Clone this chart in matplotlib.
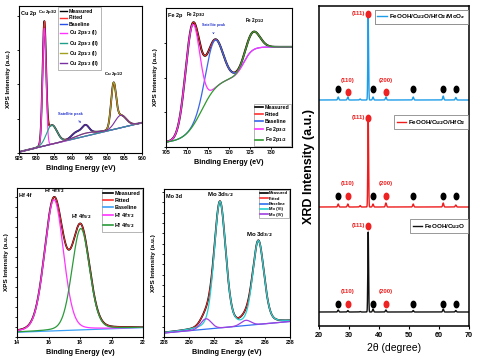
import numpy as np
import matplotlib
matplotlib.use("Agg")
import matplotlib.pyplot as plt
from matplotlib.path import Path
from matplotlib.lines import Line2D

plt.rcParams['font.family'] = ['Liberation Sans', 'DejaVu Sans']
plt.rcParams['font.weight'] = 'bold'
plt.rcParams['axes.linewidth'] = 0.8

W, H = 479, 363
fig = plt.figure(figsize=(W / 100, H / 100), dpi=100)

def rect(x0, x1, ytop, ybot):
    return [x0 / W, (H - ybot) / H, (x1 - x0) / W, (ybot - ytop) / H]

def pv(x, c, a, s, eta=0.0):
    g = np.exp(-(x - c) ** 2 / (2 * s ** 2))
    l = 1.0 / (1 + ((x - c) / (s * 1.1774)) ** 2)
    return a * ((1 - eta) * g + eta * l)

def sig(x, c, w):
    return 1.0 / (1 + np.exp(-(x - c) / w))

# ---------------- data ----------------
# Cu 2p  (centre eV, height, width, lorentz fraction)
cu_xlim = (925, 960)
cu_ticks = [925, 930, 935, 940, 945, 950, 955, 960]
cu_base = (0.7, 20.6)
cu_p32_1 = (932.2, 80.0, 0.50, 0.0)
cu_p32_2 = (934.3, 13.0, 1.50, 0.0)
cu_p12_1 = (951.9, 28.0, 0.70, 0.0)
cu_p12_2 = (953.9, 8.5, 1.60, 0.0)
cu_sat = [(941.2, 3.0, 1.2, 0.0), (943.9, 5.5, 1.0, 0.0)]
cu_sat_broad = (944.0, 2.0, 3.0, 0.0)

# Fe 2p
fe_xlim = (705, 735)
fe_ticks = [705, 710, 715, 720, 725, 730]
fe_steps = [(3.0, 50.0, 713.5, 2.0), (50.0, 72.0, 723.5, 1.0)]
fe_p32 = (711.3, 73.0, 1.7, 0.0)
fe_sat = (716.5, 35.0, 2.0, 0.0)
fe_p12 = (725.7, 13.0, 1.6, 0.0)

# Hf 4f
hf_xlim = (14, 22)
hf_ticks = [14, 16, 18, 20, 22]
hf_base = (3.2, 6.3)
hf_p72 = (16.35, 88.0, 0.60, 0.15)
hf_p52 = (18.05, 68.0, 0.56, 0.15)

# Mo 3d
mo_xlim = (228, 238)
mo_ticks = [228, 230, 232, 234, 236, 238]
mo_base = (2.7, 10.5)
mo_vi = [(232.44, 85.0, 0.46, 0.25), (235.49, 56.0, 0.45, 0.25)]
mo_iv = [(231.33, 7.0, 0.42, 0.0), (234.50, 3.5, 0.40, 0.0)]

# XRD
xrd_pos = [26.4, 29.6, 33.7, 36.4, 38.0, 42.3, 51.4, 61.4, 65.6]
xrd_black = [2.0, 1.5, 0.5, 80.0, 3.0, 2.0, 1.5, 3.0, 1.5]
xrd_red = [3.0, 3.0, 1.5, 91.0, 3.0, 4.0, 3.0, 4.0, 2.0]
xrd_blue = [3.0, 3.0, 1.0, 83.0, 3.0, 3.0, 3.0, 4.0, 2.5]
xrd_offsets = [14, 119, 226]
black_dot_pos = [26.4, 38.0, 51.4, 61.4, 65.6]
red_dot_pos = [29.6, 42.3]
red_dot_labels = ['(110)', '(200)']
xrd_dot_y = {'black': (22, 22, 32, 100), 'red': (130, 130, 140, 208), 'blue': (237, 234, 243, 312)}
xrd_names = ['FeOOH/Cu$_2$O', 'FeOOH/Cu$_2$O/HfO$_2$', 'FeOOH/Cu$_2$O/HfO$_2$/MoO$_x$']

LS = 3.8   # tiny label size


def style_xps(ax, xlim, ticks, ystep, xlabel='Binding Energy (eV)'):
    ax.set_xlim(*xlim)
    ax.set_ylim(0, 100)
    ax.set_xticks(ticks)
    ax.set_yticks(np.arange(0, 100, ystep))
    ax.tick_params(axis='both', direction='out', length=1.5, width=0.6, pad=1, labelsize=LS)
    ax.tick_params(axis='y', labelleft=False)
    for lab in ax.get_xticklabels():
        lab.set_fontweight('bold')
    ax.set_xlabel(xlabel, fontsize=5.2, fontweight='bold', labelpad=2.5)
    ax.set_ylabel('XPS Intensity (a.u.)', fontsize=4.6, fontweight='bold', labelpad=4)


def xps_legend(ax, handles, labels, anchor, loc, fs=4.3, hl=1.6):
    leg = ax.legend(handles, labels, loc=loc, bbox_to_anchor=anchor, fontsize=fs,
                    handlelength=hl, handletextpad=0.3, borderpad=0.3, labelspacing=0.35,
                    borderaxespad=0.2,
                    frameon=True, fancybox=False, edgecolor='#999999', framealpha=1)
    leg.get_frame().set_linewidth(0.5)
    for t in leg.get_texts():
        t.set_fontweight('bold')
    return leg

# ---------------- Cu 2p ----------------
ax = fig.add_axes(rect(19, 142, 6, 153))
x = np.linspace(*cu_xlim, 1200)
base = cu_base[0] + (x - cu_xlim[0]) * (cu_base[1] - cu_base[0]) / (cu_xlim[1] - cu_xlim[0])
sat = sum(pv(x, *p) for p in cu_sat)
c1 = pv(x, *cu_p32_1); c2 = pv(x, *cu_p32_2); c3 = pv(x, *cu_p12_1); c4 = pv(x, *cu_p12_2) + pv(x, *cu_sat_broad)
fit = base + c1 + c2 + c3 + c4 + sat
col_cu = ['black', '#ff3030', '#2a4fe6', '#ff33ff', '#1f9f8a', '#a0a020', '#7a2fa0']
ax.plot(x, fit, color='black', lw=1.3)
ax.plot(x, fit, color=col_cu[1], lw=0.7)
ax.plot(x, base, color=col_cu[2], lw=0.9)
ax.plot(x, base + sat + pv(x, *cu_sat_broad), color='#2a2fc0', lw=0.8)
ax.plot(x, base + c1, color=col_cu[3], lw=0.8)
ax.plot(x, base + c2, color=col_cu[4], lw=0.8)
ax.plot(x, base + c3 + c4, color=col_cu[5], lw=0.8)
ax.plot(x, base + c4, color=col_cu[6], lw=0.8)
style_xps(ax, cu_xlim, cu_ticks, 23.3)
ax.text(0.015, 0.965, 'Cu 2p', transform=ax.transAxes, fontsize=4.0, fontweight='bold', va='top')
ax.text(933.2, 93, 'Cu 2p$_{3/2}$', fontsize=3.2, ha='center', va='bottom')
ax.text(952.0, 51, 'Cu 2p$_{1/2}$', fontsize=3.2, ha='center', va='bottom')
ax.annotate('Satellite peak', xy=(943.3, 19.5), xytext=(939.5, 25), fontsize=2.8, color='#2233cc',
            ha='center', va='bottom', arrowprops=dict(arrowstyle='->', color='#2233cc', lw=0.4))
h = [Line2D([], [], color=c, lw=1) for c in col_cu]
lab = ['Measured', 'Fitted', 'Baseline', 'Cu 2p$_{3/2}$ (I)', 'Cu 2p$_{3/2}$ (II)',
       'Cu 2p$_{1/2}$ (I)', 'Cu 2p$_{1/2}$ (II)']
xps_legend(ax, h, lab, (0.31, 1.0), 'upper left', fs=3.7, hl=1.5)

# ---------------- Fe 2p ----------------
ax = fig.add_axes(rect(166, 292, 8, 147))
x = np.linspace(*fe_xlim, 1200)
S = fe_steps[0][0] + sum((hi - lo) * sig(x, c, w) for lo, hi, c, w in fe_steps)
f1 = pv(x, *fe_p32); f2 = pv(x, *fe_sat); f3 = pv(x, *fe_p12)
fit = S + f1 + f2 + f3
col_fe = ['black', '#ff3030', '#3a66ea', '#ff33ff', '#2e9a2e']
ax.plot(x, fit, color='black', lw=1.5)
ax.plot(x, fit, color=col_fe[1], lw=0.7)
ax.plot(x, S + f2, color=col_fe[2], lw=0.9)
ax.plot(x, S + f1, color=col_fe[3], lw=0.9)
ax.plot(x, S + f3, color=col_fe[4], lw=0.9)
style_xps(ax, fe_xlim, fe_ticks, 25)
ax.text(0.015, 0.965, 'Fe 2p', transform=ax.transAxes, fontsize=4.0, fontweight='bold', va='top')
ax.text(712.0, 92, 'Fe 2p$_{3/2}$', fontsize=3.3, ha='center', va='bottom')
ax.text(726.2, 88, 'Fe 2p$_{1/2}$', fontsize=3.3, ha='center', va='bottom')
ax.annotate('Satellite peak', xy=(716.3, 79), xytext=(716.3, 86), fontsize=2.6, color='#2233cc',
            ha='center', va='bottom', arrowprops=dict(arrowstyle='->', color='#2233cc', lw=0.4))
h = [Line2D([], [], color=c, lw=1.2) for c in col_fe]
lab = ['Measured', 'Fitted', 'Baseline', 'Fe 2p$_{3/2}$', 'Fe 2p$_{1/2}$']
xps_legend(ax, h, lab, (1.0, 0.0), 'lower right', fs=3.8, hl=1.5)

# ---------------- Hf 4f ----------------
ax = fig.add_axes(rect(17, 143, 188, 337))
x = np.linspace(*hf_xlim, 1200)
base = hf_base[0] + (x - hf_xlim[0]) * (hf_base[1] - hf_base[0]) / (hf_xlim[1] - hf_xlim[0])
h1 = pv(x, *hf_p72); h2 = pv(x, *hf_p52)
fit = base + h1 + h2
col_hf = ['black', '#ff3030', '#3aa0f5', '#ff33ff', '#2a9a3a']
ax.plot(x, fit, color='black', lw=1.3)
ax.plot(x, fit, color=col_hf[1], lw=0.7)
ax.plot(x, base, color=col_hf[2], lw=0.9)
ax.plot(x, base + h1, color=col_hf[3], lw=0.9)
ax.plot(x, base + h2, color=col_hf[4], lw=0.9)
style_xps(ax, hf_xlim, hf_ticks, 6.7, xlabel='Binding Energy (ev)')
ax.text(0.015, 0.965, 'Hf 4f', transform=ax.transAxes, fontsize=4.0, fontweight='bold', va='top')
ax.text(16.35, 95.5, 'Hf 4f$_{7/2}$', fontsize=4.0, ha='center', va='bottom')
ax.text(18.05, 78, 'Hf 4f$_{5/2}$', fontsize=4.0, ha='center', va='bottom')
h = [Line2D([], [], color=c, lw=1.2) for c in col_hf]
lab = ['Measured', 'Fitted', 'Baseline', 'Hf 4f$_{7/2}$', 'Hf 4f$_{5/2}$']
xps_legend(ax, h, lab, (1.0, 1.0), 'upper right', fs=4.0, hl=1.7)

# ---------------- Mo 3d ----------------
ax = fig.add_axes(rect(164, 290, 189, 337))
x = np.linspace(*mo_xlim, 1200)
base = mo_base[0] + (x - mo_xlim[0]) * (mo_base[1] - mo_base[0]) / (mo_xlim[1] - mo_xlim[0])
m6 = sum(pv(x, *p) for p in mo_vi)
m4 = sum(pv(x, *p) for p in mo_iv)
fit = base + m6 + m4
col_mo = ['black', '#ff3030', '#3070f0', '#22d0d0', '#a040e0']
ax.plot(x, fit, color='black', lw=1.3)
ax.plot(x, fit, color=col_mo[1], lw=0.7)
ax.plot(x, base, color=col_mo[2], lw=0.9)
ax.plot(x, base + m6, color=col_mo[3], lw=0.9)
ax.plot(x, base + m4, color=col_mo[4], lw=0.9)
style_xps(ax, mo_xlim, mo_ticks, 7.0)
ax.text(0.015, 0.965, 'Mo 3d', transform=ax.transAxes, fontsize=4.0, fontweight='bold', va='top')
ax.text(232.5, 93, 'Mo 3d$_{5/2}$', fontsize=4.4, ha='center', va='bottom')
ax.text(235.6, 66, 'Mo 3d$_{3/2}$', fontsize=4.4, ha='center', va='bottom')
h = [Line2D([], [], color=c, lw=1.2) for c in col_mo]
lab = ['Measured', 'Fitted', 'Baseline', 'Mo (VI)', 'Mo (IV)']
xps_legend(ax, h, lab, (1.0, 1.0), 'upper right', fs=3.0, hl=1.8)

# ---------------- XRD ----------------
ax = fig.add_axes(rect(319, 469, 6, 326))
x = np.linspace(20, 70, 3000)
xrd_cols = ['#111111', '#ee1c1c', '#1e9de8']
series = [xrd_black, xrd_red, xrd_blue]
for vals, off, col in zip(series, xrd_offsets, xrd_cols):
    y = off + sum(pv(x, p, v, 0.13 if v > 20 else 0.18) for p, v in zip(xrd_pos, vals))
    ax.plot(x, y, color=col, lw=1.0)

ell = Path([(0.36 * np.cos(t), 0.5 * np.sin(t)) for t in np.linspace(0, 2 * np.pi, 40)], closed=True)
for key in ['black', 'red', 'blue']:
    yb, yr, yl, y111 = xrd_dot_y[key]
    ax.plot(black_dot_pos, [yb] * len(black_dot_pos), ls='none', marker=ell, ms=4.6, color='black')
    ax.plot(red_dot_pos, [yr] * len(red_dot_pos), ls='none', marker=ell, ms=4.6, color='#ee2222')
    for px, t in zip(red_dot_pos, red_dot_labels):
        ax.text(px, yl, t, color='#ee2222', fontsize=4.4, ha='center', va='bottom')
    ax.plot([36.4], [y111], ls='none', marker=ell, ms=4.6, color='#ee2222')
    ax.text(35.3, y111, '(111)', color='#ee2222', fontsize=4.4, ha='right', va='center')

ax.set_xlim(20, 70)
ax.set_ylim(0, 320)
ax.set_xticks([20, 30, 40, 50, 60, 70])
ax.set_yticks([])
ax.tick_params(axis='x', direction='out', length=2.5, width=0.8, pad=2, labelsize=5.2)
for lab_ in ax.get_xticklabels():
    lab_.set_fontweight('bold')
for s in ax.spines.values():
    s.set_linewidth(1.1)
ax.set_xlabel('2θ (degree)', fontsize=7.5, fontweight='normal', labelpad=3)
ax.set_ylabel('XRD Intensity (a.u.)', fontsize=9, fontweight='bold', labelpad=3)

anchors = [(0.997, 0.335), (0.997, 0.66), (0.997, 0.99)]
for name, col, anc in zip(xrd_names, xrd_cols, anchors):
    leg = ax.legend([Line2D([], [], color=col, lw=1.0)], [name], loc='upper right', bbox_to_anchor=anc,
                    fontsize=4.5, handlelength=1.5, handletextpad=0.3, borderpad=0.4,
                    borderaxespad=0.1,
                    frameon=True, fancybox=False, edgecolor='#888888', framealpha=1)
    leg.get_frame().set_linewidth(0.6)
    for t in leg.get_texts():
        t.set_fontweight('bold')
    ax.add_artist(leg)

fig.savefig('out.png', dpi=100)
